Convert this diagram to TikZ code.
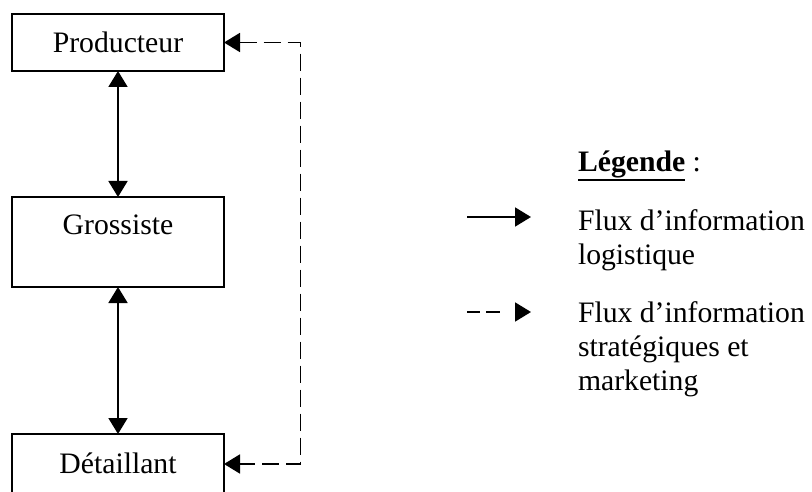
\documentclass[tikz,border=0pt]{standalone}
\usepackage{fontspec}
\setmainfont{Liberation Serif}
\usetikzlibrary{arrows.meta}
\newcommand\myuline[1]{\setbox0\hbox{#1}\rlap{\rule[-9pt]{\wd0}{2pt}}\box0\relax}
\begin{document}
\begin{tikzpicture}[x=1pt,y=-1pt,
  box/.style={draw, line width=1.9pt, minimum width=212pt, inner sep=0pt, outer sep=0pt},
  txt/.style={inner sep=0pt, outer sep=0pt, font=\fontsize{29.7}{34}\selectfont},
  tipA/.tip={Triangle[length=16pt,width=19pt]},
  solidarrow/.style={line width=1.9pt, {tipA}-{tipA}},
  dasharrow/.style={line width=1.9pt, dash pattern=on 17pt off 7pt, {tipA}-{tipA}},
  legsolid/.style={line width=1.9pt, -{tipA}},
  legdash/.style={line width=1.9pt, dash pattern=on 13pt off 6pt on 14pt off 40pt, -{tipA}}
]
\useasboundingbox (0,0) rectangle (812,492);
\clip (0,0) rectangle (812,492);
% boxes
\node[box, minimum height=57pt] (prod) at (118,42.5) {};
\node[box, minimum height=90pt] (gro) at (118,242) {};
\node[box, minimum height=96pt] (det) at (118,482) {};
\node[txt, anchor=base] (tprod) at (118,53) {Producteur};
\node[txt, anchor=base] (tgro) at (118,235) {Grossiste};
\node[txt, anchor=base] (tdet) at (118,473) {Détaillant};
% solid arrows
\draw[solidarrow] (prod.south) -- (gro.north);
\draw[solidarrow] (gro.south) -- (det.north);
% dashed loop
\coordinate (c1) at (300.5,42.5);
\coordinate (c2) at (300.5,464);
\draw[dasharrow] (prod.east) -- (c1) -- (c2) -- (c2 -| det.east);
% legend
\node[txt, anchor=base west] (leg) at (578,172) {\myuline{\textbf{Légende}} :};
\coordinate (la1) at (467,217);
\coordinate (la2) at (531,217);
\draw[legsolid] (la1) -- (la2);
\node[txt, anchor=base west] (l1a) at (578,230) {Flux d’information};
\node[txt, anchor=base west] (l1b) at (578,264) {logistique};
\coordinate (lb1) at (467,312);
\coordinate (lb2) at (531,312);
\draw[legdash] (lb1) -- (lb2);
\node[txt, anchor=base west] (l2a) at (578,322) {Flux d’information};
\node[txt, anchor=base west] (l2b) at (578,356) {stratégiques et};
\node[txt, anchor=base west] (l2c) at (578,390) {marketing};
\end{tikzpicture}
\end{document}
